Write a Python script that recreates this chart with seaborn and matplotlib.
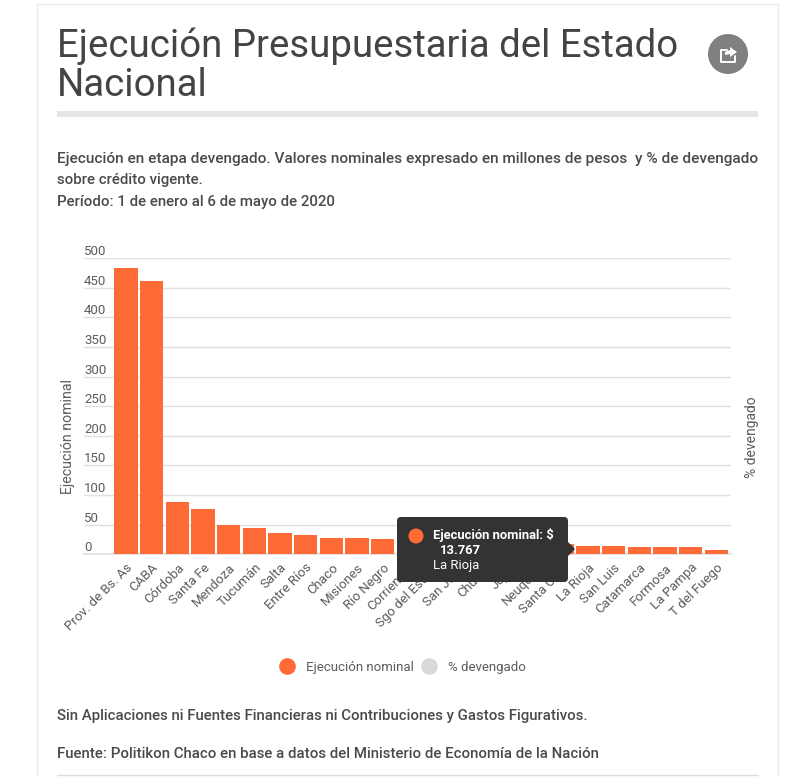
import matplotlib
matplotlib.use('Agg')
import matplotlib.pyplot as plt
from matplotlib.lines import Line2D
from matplotlib.patches import Circle, FancyBboxPatch, Polygon, Rectangle
import pandas as pd
import seaborn as sns

provincias = ['Prov. de Bs. As', 'CABA', 'Córdoba', 'Santa Fe', 'Mendoza', 'Tucumán', 'Salta',
              'Entre Ríos', 'Chaco', 'Misiones', 'Río Negro', 'Corrientes', 'Sgo del Estero',
              'San Juan', 'Chubut', 'Jujuy', 'Neuquén', 'Santa Cruz', 'La Rioja', 'San Luis',
              'Catamarca', 'Formosa', 'La Pampa', 'T del Fuego']
ejecucion = [483.6, 461.6, 88, 76, 49, 44, 36, 32, 27, 27, 25.5, 24, 22.5, 21, 20, 19, 18, 16.5,
             13.767, 13.5, 12, 12, 12, 7]
y_ticks = [0, 50, 100, 150, 200, 250, 300, 350, 400, 450, 500]

W, H = 806, 777
ORANGE = '#ff6b37'
GRIS = '#5c5c5c'
TEXTO = '#4a4a4a'
GRID = '#e0e0e0'

sns.set_theme(style='white')
plt.rcParams['font.family'] = ['Roboto', 'DejaVu Sans']

df = pd.DataFrame({'provincia': provincias, 'ejecucion': ejecucion})

fig = plt.figure(figsize=(W / 100, H / 100), dpi=100, facecolor='white')

# chart area in pixels: x 84-731, y 258-554
ax = fig.add_axes([84 / W, 1 - 554.2 / H, 647 / W, 296 / H])
sns.barplot(data=df, x='provincia', y='ejecucion', color=ORANGE, saturation=1, width=0.91,
            linewidth=0, ax=ax, zorder=3)
ax.set_xlim(-1.636, 23.57)
ax.set_ylim(0, 500)
ax.set_yticks(y_ticks)
ax.yaxis.grid(True, color=GRID, lw=1)
ax.set_axisbelow(True)
ax.tick_params(axis='y', length=0, pad=0, labelsize=9.5, labelcolor=GRIS)
ax.tick_params(axis='x', length=0, pad=5, labelsize=9.5, labelcolor=GRIS)
plt.setp(ax.get_yticklabels(), ha='left', va='bottom')
plt.setp(ax.get_xticklabels(), rotation=45, ha='right', rotation_mode='anchor')
sns.despine(ax=ax, left=True, top=True, right=True)
ax.spines['bottom'].set_color(GRID)
ax.set_xlabel('')
ax.set_ylabel('Ejecución nominal', fontsize=10.2, color=GRIS)
ax.yaxis.set_label_coords(-9 / 647, 0.398)

ax2 = ax.twinx()
ax2.set_ylim(0, 100)
ax2.set_yticks([])
sns.despine(ax=ax2, left=True, top=True, right=True, bottom=True)
ax2.set_ylabel('% devengado', fontsize=10, color=GRIS)
ax2.yaxis.set_label_coords(1 + 14 / 647, 0.397)

handles = [Line2D([], [], ls='', marker='o', ms=11, color=ORANGE),
           Line2D([], [], ls='', marker='o', ms=11, color='#d9d9d9')]
ax.legend(handles, ['Ejecución nominal', '% devengado'], ncol=2, frameon=False,
          loc='center', bbox_to_anchor=((400 - 84) / 647, (554 - 667) / 296),
          fontsize=9.5, labelcolor=GRIS, handletextpad=0.45, columnspacing=0.1)

# page elements, overlay in pixel coordinates
ov = fig.add_axes([0, 0, 1, 1], zorder=5)
ov.set_xlim(0, W)
ov.set_ylim(H, 0)
ov.axis('off')
ov.patch.set_alpha(0)

ov.plot([37, 37, 778, 778], [H, 3.5, 3.5, H], color='#ececec', lw=1)
ov.text(57, 46, 'Ejecución Presupuestaria del Estado', fontsize=27.6, color='#444444', va='center')
ov.text(57, 85, 'Nacional', fontsize=27.6, color='#444444', va='center')
ov.add_patch(Rectangle((57, 111), 701, 6, color='#e6e6e6', lw=0))

ov.add_patch(Circle((728, 54), 20, color='#808080', lw=0))
ov.plot([727, 721, 721, 735, 735], [50, 50, 62, 62, 56], color='white', lw=1.4)
ov.add_patch(Polygon([[730, 47], [737, 52], [730, 57], [730, 54], [725, 55], [725, 52], [730, 50]],
                     color='white', lw=0))

ov.text(57, 159, 'Ejecución en etapa devengado. Valores nominales expresado en millones de pesos  y % de devengado',
        fontsize=11.1, color=TEXTO, va='center', fontweight='medium')
for y, linea in [(180, 'sobre crédito vigente.'),
                 (202, 'Período: 1 de enero al 6 de mayo de 2020'),
                 (716, 'Sin Aplicaciones ni Fuentes Financieras ni Contribuciones y Gastos Figurativos.'),
                 (754, 'Fuente: Politikon Chaco en base a datos del Ministerio de Economía de la Nación')]:
    ov.text(57, y, linea, fontsize=10.8, color=TEXTO, va='center', fontweight='medium')
ov.plot([57, 758], [775, 775], color='#dddddd', lw=1)

# tooltip over La Rioja
ov.add_patch(FancyBboxPatch((400, 520), 165, 59, boxstyle='round,pad=3,rounding_size=4',
                            fc='#333333', ec='none'))
ov.add_patch(Polygon([[568, 542], [575, 549], [568, 556]], color='#333333', lw=0))
ov.add_patch(Circle((416, 536), 7.5, color=ORANGE, lw=0))
ov.text(433, 535, 'Ejecución nominal: $', color='white', fontsize=9.4, fontweight='bold', va='center')
ov.text(440, 550, '13.767', color='white', fontsize=9.4, fontweight='bold', va='center')
ov.text(433, 565, 'La Rioja', color='white', fontsize=9.4, va='center')

fig.savefig('out.png', dpi=100)
